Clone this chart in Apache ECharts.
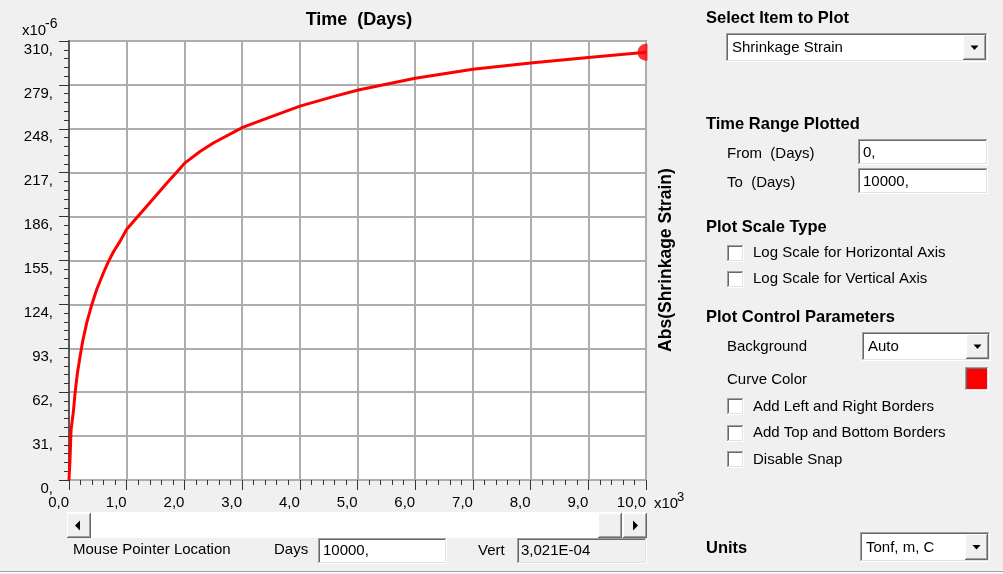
<!DOCTYPE html>
<html>
<head>
<meta charset="utf-8">
<script src="https://cdn.jsdelivr.net/npm/echarts@6/dist/echarts.min.js"></script>
<style>
html,body{margin:0;padding:0;background:#f0f0f0;}
#chart{width:1003px;height:574px;}
</style>
</head>
<body>
<div id="chart"></div>
<script>
// ---- data (time in days, |shrinkage strain| in 1e-6) ----
const timeDays = [0, 17, 35, 75, 104, 144, 191, 237, 307, 393, 480, 594, 681, 768, 884, 1000, 1404, 1693, 1924, 2000, 2270, 2501, 3010, 3426, 4003, 4580, 5014, 6000, 7000, 8000, 9000, 10000];
const strainMicro = [0, 14, 35, 48, 61, 75, 87, 98, 111, 123.6, 134.5, 146, 154, 161, 168.5, 177, 196, 209.5, 220, 223.6, 232, 238, 249, 255.4, 264, 270.7, 275.4, 283.7, 290, 294.5, 298.3, 302.1];
const xTickValues = [0, 1000, 2000, 3000, 4000, 5000, 6000, 7000, 8000, 9000, 10000];
const yTickValues = [0, 31, 62, 93, 124, 155, 186, 217, 248, 279, 310];

const FONT = '"Liberation Sans", Arial, sans-serif';
const chart = echarts.init(document.getElementById('chart'));

const points = timeDays.map((t, i) => [t, strainMicro[i]]);
const lastPoint = [timeDays[timeDays.length - 1], strainMicro[strainMicro.length - 1]];

// ---- UI helpers (graphic elements) ----
const G = [];
function txt(x, y, s, size, bold, extra) {
  G.push(Object.assign({
    type: 'text', x: x, y: y, z: 100,
    style: { text: s, fill: '#000', font: (bold ? 'bold ' : '') + size + 'px ' + FONT, align: 'left', verticalAlign: 'middle' }
  }, extra || {}));
}
function rect(x, y, w, h, fill, stroke, z) {
  G.push({ type: 'rect', z: z || 90, shape: { x: x, y: y, width: w, height: h },
    style: { fill: fill, stroke: stroke || null, lineWidth: stroke ? 1 : 0 } });
}
function line(x1, y1, x2, y2, color, w, z) {
  G.push({ type: 'line', z: z || 95, shape: { x1: x1, y1: y1, x2: x2, y2: y2 },
    style: { stroke: color, lineWidth: w || 1 } });
}
function sunken(x, y, w, h, fill) {
  rect(x, y, w, h, fill || '#fff');
  line(x, y + 0.5, x + w, y + 0.5, '#a0a0a0');
  line(x + 0.5, y, x + 0.5, y + h, '#a0a0a0');
  line(x + 1, y + 1.5, x + w - 1, y + 1.5, '#696969');
  line(x + 1.5, y + 1, x + 1.5, y + h - 1, '#696969');
  line(x, y + h - 0.5, x + w, y + h - 0.5, '#ffffff');
  line(x + w - 0.5, y, x + w - 0.5, y + h, '#ffffff');
  line(x + 1, y + h - 1.5, x + w - 1, y + h - 1.5, '#e3e3e3');
  line(x + w - 1.5, y + 1, x + w - 1.5, y + h - 1, '#e3e3e3');
}
function raised(x, y, w, h) {
  rect(x, y, w, h, '#f0f0f0', null, 96);
  line(x, y + 0.5, x + w, y + 0.5, '#ffffff', 1, 97);
  line(x + 0.5, y, x + 0.5, y + h, '#ffffff', 1, 97);
  line(x, y + h - 0.5, x + w, y + h - 0.5, '#696969', 1, 97);
  line(x + w - 0.5, y, x + w - 0.5, y + h, '#696969', 1, 97);
  line(x + 1, y + h - 1.5, x + w - 1, y + h - 1.5, '#a0a0a0', 1, 97);
  line(x + w - 1.5, y + 1, x + w - 1.5, y + h - 1, '#a0a0a0', 1, 97);
}
function poly(pts) {
  G.push({ type: 'polygon', z: 98, shape: { points: pts }, style: { fill: '#000' } });
}
function dropdown(x, y, w, h, label) {
  sunken(x, y, w, h, '#fff');
  txt(x + 6, y + h / 2 + 0.5, label, 15, false);
  const bx = x + w - 25, by = y + 2, bw = 23, bh = h - 4;
  raised(bx, by, bw, bh);
  const cx = bx + bw / 2, cy = by + bh / 2;
  poly([[cx - 4, cy - 2], [cx + 4, cy - 2], [cx, cy + 2.5]]);
}

// chart annotations
G.push({ type: 'text', x: 359, y: 20, z: 100,
  style: { text: 'Time  (Days)', fill: '#000', font: 'bold 18px ' + FONT, align: 'center', verticalAlign: 'middle' } });
txt(22, 31, 'x10', 15, false);
txt(45, 24, '-6', 14, false);
txt(654, 504, 'x10', 15, false);
txt(677, 497, '3', 13, false);
G.push({ type: 'text', x: 666, y: 260, rotation: Math.PI / 2, z: 100,
  style: { text: 'Abs(Shrinkage Strain)', fill: '#000', font: 'bold 17.5px ' + FONT, align: 'center', verticalAlign: 'middle' } });
// clip the end marker at the plot's right edge
rect(647.5, 30, 10, 40, '#f0f0f0', null, 80);

// right panel
txt(706, 18, 'Select Item to Plot', 16.5, true);
dropdown(726, 33, 262, 29, 'Shrinkage Strain');
txt(706, 124, 'Time Range Plotted', 16.5, true);
txt(727, 154, 'From  (Days)', 15, false);
sunken(858, 139, 130, 26, '#fff');
txt(863, 152.5, '0,', 15, false);
txt(727, 183, 'To  (Days)', 15, false);
sunken(858, 168, 130, 26, '#fff');
txt(863, 181.5, '10000,', 15, false);
txt(706, 227, 'Plot Scale Type', 16.5, true);
sunken(727, 245, 17, 17, '#fff');
txt(753, 253, 'Log Scale for Horizontal Axis', 15, false);
sunken(727, 271, 17, 17, '#fff');
txt(753, 279, 'Log Scale for Vertical Axis', 15, false);
txt(706, 317, 'Plot Control Parameters', 16.5, true);
txt(727, 347, 'Background', 15, false);
dropdown(862, 332, 129, 29, 'Auto');
txt(727, 380, 'Curve Color', 15, false);
sunken(965, 367, 24, 24, '#ff0000');
sunken(727, 398, 17, 17, '#fff');
txt(753, 407, 'Add Left and Right Borders', 15, false);
sunken(727, 425, 17, 17, '#fff');
txt(753, 433, 'Add Top and Bottom Borders', 15, false);
sunken(727, 451, 17, 17, '#fff');
txt(753, 460, 'Disable Snap', 15, false);
txt(706, 548, 'Units', 16.5, true);
dropdown(860, 532, 130, 30, 'Tonf, m, C');

// scroll bar
rect(67, 512, 580, 26, '#ffffff');
raised(67, 513, 24, 25);
poly([[75, 525.5], [80, 520.5], [80, 530.5]]);
raised(598, 513, 24, 25);
raised(623, 513, 24, 25);
poly([[633, 520.5], [633, 530.5], [638, 525.5]]);

// bottom status row
txt(73, 550, 'Mouse Pointer Location', 15, false);
txt(274, 550, 'Days', 15, false);
sunken(318, 538, 129, 26, '#fff');
txt(323, 551, '10000,', 15, false);
txt(478, 551, 'Vert', 15, false);
sunken(517, 538, 130, 26, '#f0f0f0');
txt(521, 551, '3,021E-04', 15, false);
line(0, 571.5, 1003, 571.5, '#a0a0a0', 1);
line(0, 572.5, 1003, 572.5, '#ffffff', 1);

const option = {
  animation: false,
  backgroundColor: '#f0f0f0',
  textStyle: { fontFamily: FONT },
  grid: { left: 69, top: 41, width: 577, height: 439, show: true, backgroundColor: '#ffffff', borderColor: '#8a8a8a', borderWidth: 2 },
  xAxis: {
    type: 'value', min: xTickValues[0], max: xTickValues[xTickValues.length - 1], interval: xTickValues[1] - xTickValues[0],
    offset: 3,
    axisLine: { show: false },
    axisTick: { show: true, length: 10, lineStyle: { color: '#333', width: 1 } },
    minorTick: { show: true, splitNumber: 5, length: 5, lineStyle: { color: '#333', width: 1 } },
    splitLine: { show: true, lineStyle: { color: '#adadad', width: 2 } },
    axisLabel: {
      color: '#000', fontSize: 15, fontFamily: FONT, margin: 12, align: 'right',
      formatter: v => (v / 1000).toFixed(1).replace('.', ',')
    }
  },
  yAxis: {
    type: 'value', min: yTickValues[0], max: yTickValues[yTickValues.length - 1], interval: yTickValues[1] - yTickValues[0],
    axisLine: { show: true, lineStyle: { color: '#5a5a5a', width: 2 } },
    axisTick: { show: true, length: 10, lineStyle: { color: '#333', width: 1 } },
    minorTick: { show: true, splitNumber: 5, length: 5, lineStyle: { color: '#333', width: 1 } },
    splitLine: { show: true, lineStyle: { color: '#adadad', width: 2 } },
    axisLabel: {
      color: '#000', fontSize: 15, fontFamily: FONT, margin: 16, verticalAlign: 'top', padding: [1, 0, 0, 0],
      formatter: v => v + ','
    }
  },
  series: [
    { type: 'line', data: points, showSymbol: false, smooth: false, clip: true,
      lineStyle: { color: '#ff0000', width: 3 }, itemStyle: { color: '#ff0000' }, z: 3 },
    { type: 'scatter', data: [lastPoint], symbol: 'circle', symbolSize: 17, clip: false,
      itemStyle: { color: '#ff0000' }, z: 4 }
  ],
  graphic: G
};
chart.setOption(option);
</script>
</body>
</html>
